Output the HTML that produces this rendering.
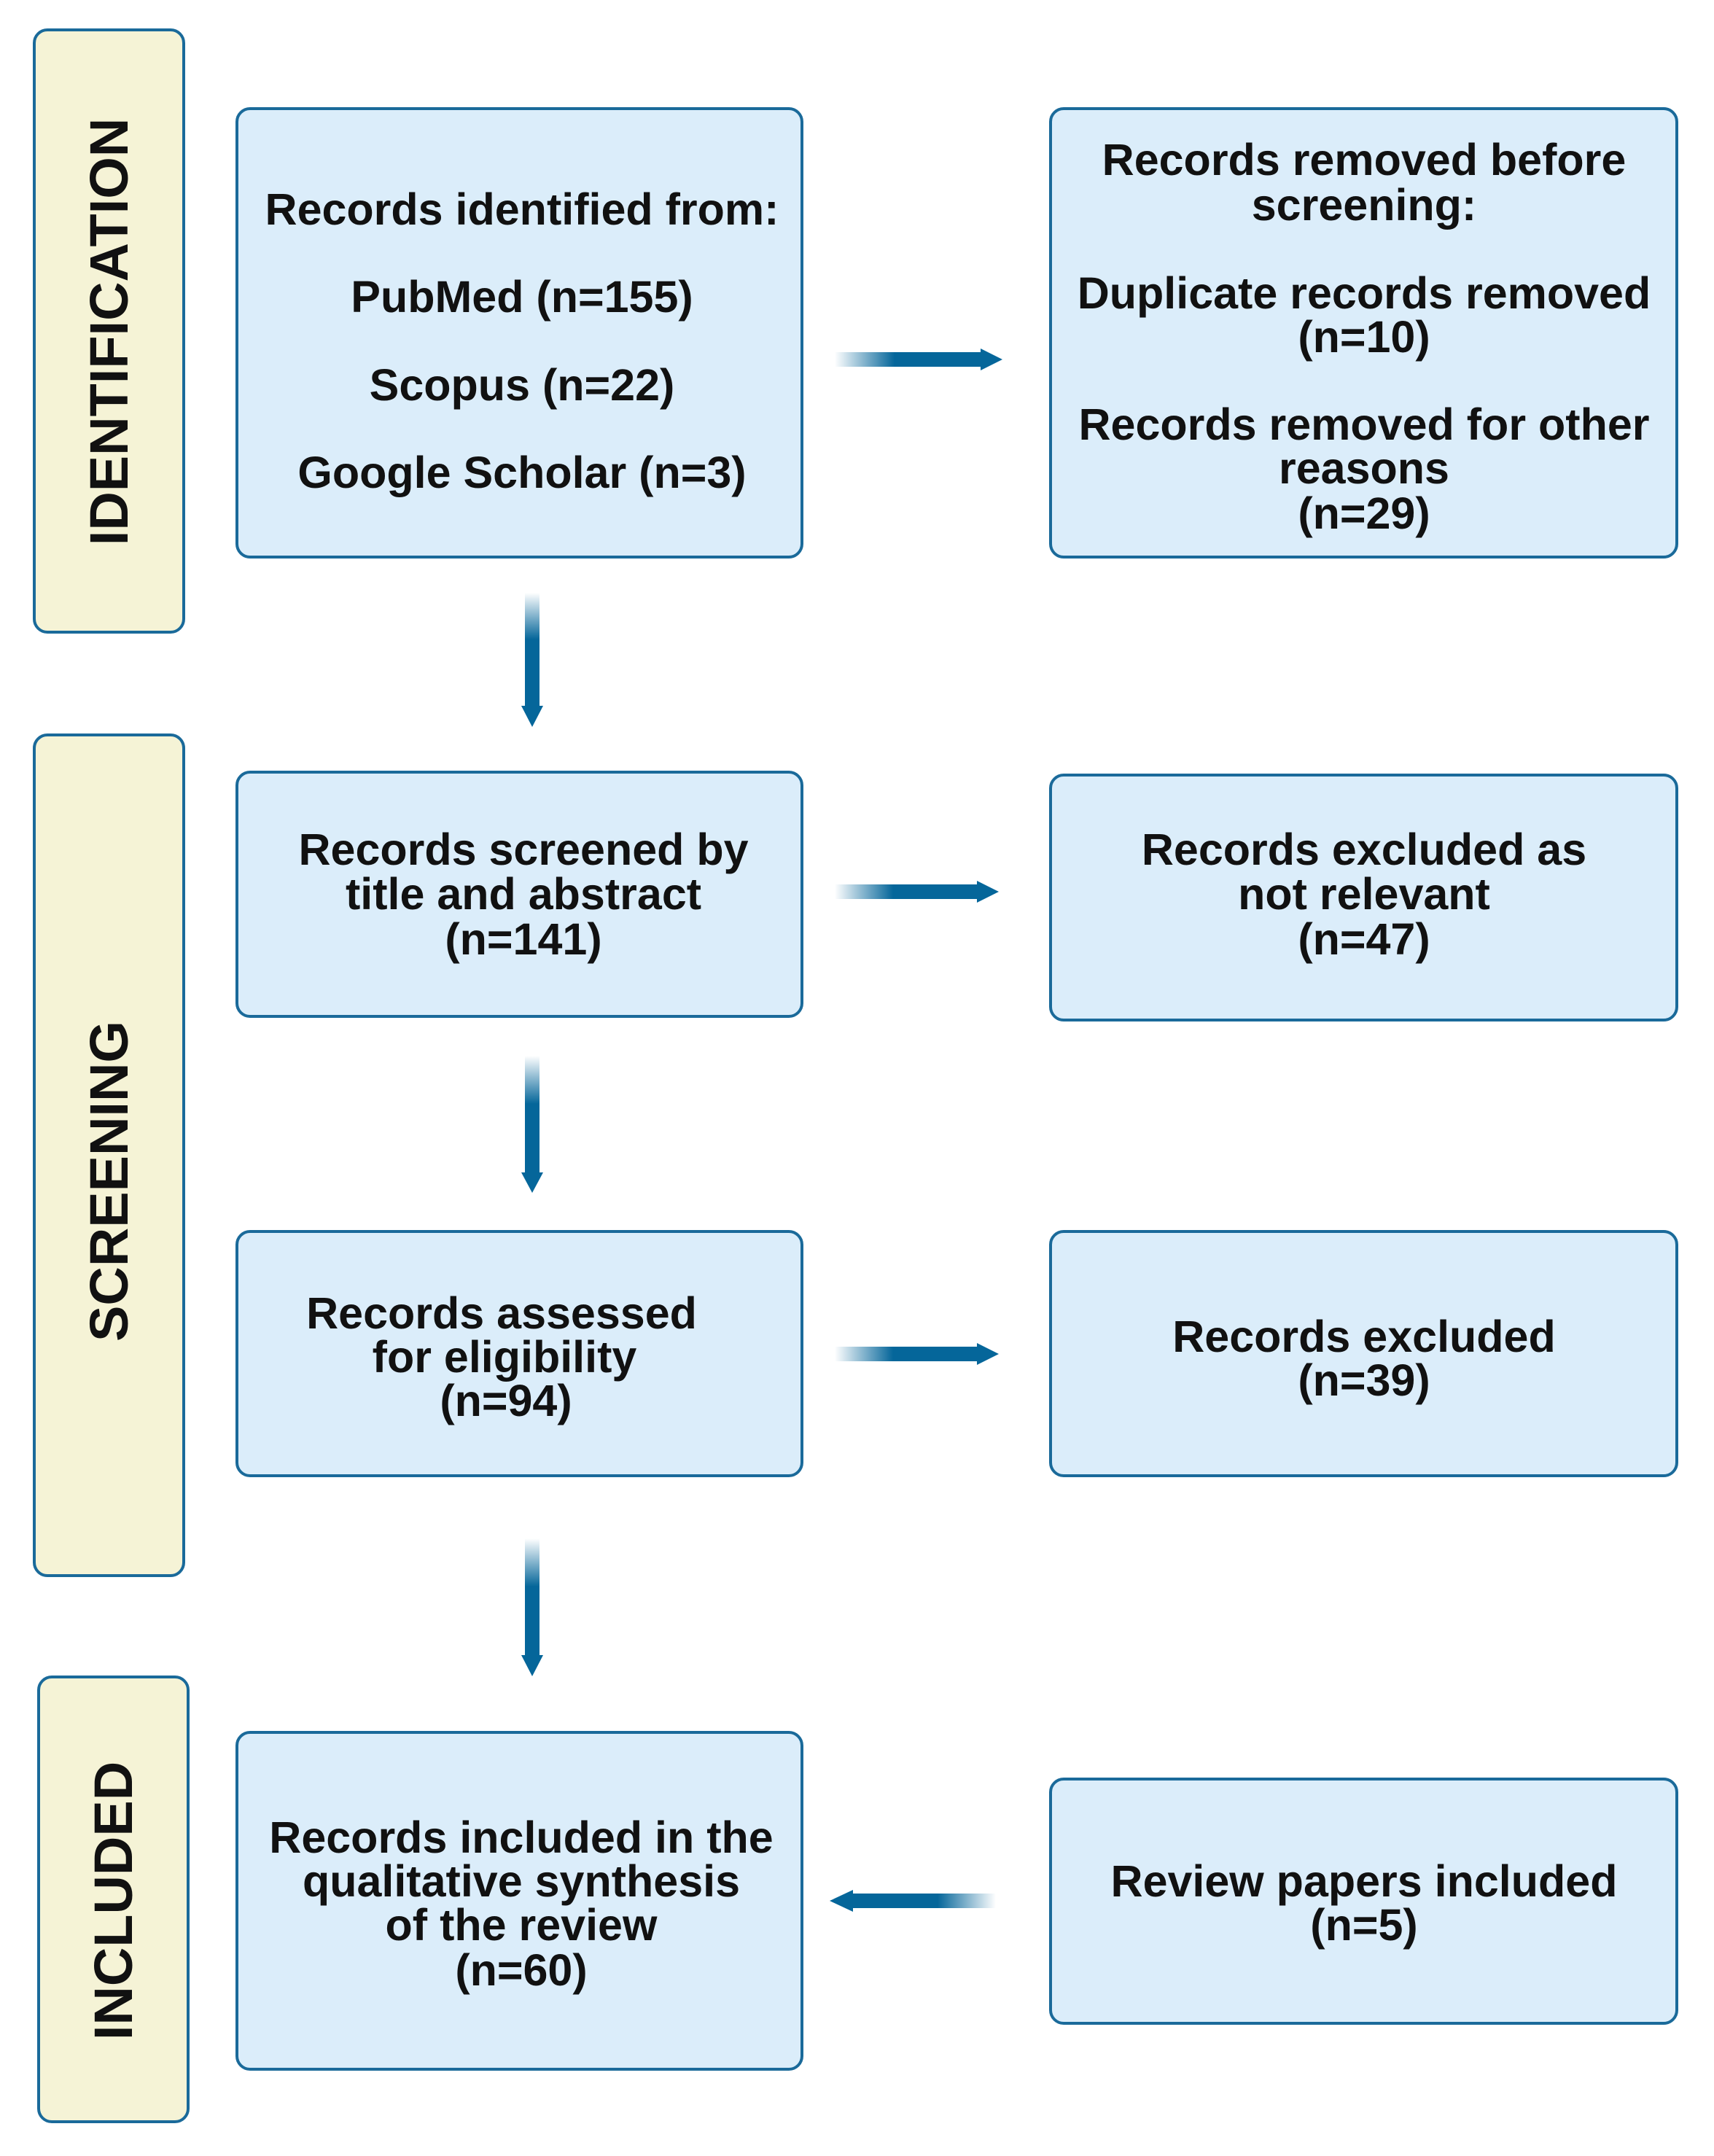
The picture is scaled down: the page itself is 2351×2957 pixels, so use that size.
<!DOCTYPE html>
<html><head><meta charset="utf-8"><style>
html,body{margin:0;padding:0;background:#fff;}
svg{display:block;}
text{font-family:"Liberation Sans",Arial,sans-serif;font-weight:bold;fill:#111;}
</style></head><body>
<svg width="2351" height="2957" viewBox="0 0 2351 2957" xmlns="http://www.w3.org/2000/svg">
<defs>
<linearGradient id="gr" x1="0" y1="0" x2="1" y2="0"><stop offset="0" stop-color="#05669a" stop-opacity="0"/><stop offset="0.4" stop-color="#05669a" stop-opacity="1"/><stop offset="1" stop-color="#05669a"/></linearGradient>
<linearGradient id="gl" x1="1" y1="0" x2="0" y2="0"><stop offset="0" stop-color="#05669a" stop-opacity="0"/><stop offset="0.4" stop-color="#05669a" stop-opacity="1"/><stop offset="1" stop-color="#05669a"/></linearGradient>
<linearGradient id="gd" x1="0" y1="0" x2="0" y2="1"><stop offset="0" stop-color="#05669a" stop-opacity="0"/><stop offset="0.4" stop-color="#05669a" stop-opacity="1"/><stop offset="1" stop-color="#05669a"/></linearGradient>
</defs>
<g fill="#f5f3d6" stroke="#1a6a9a" stroke-width="4">
<rect x="47" y="41" width="205" height="826" rx="18"/>
<rect x="47" y="1008" width="205" height="1153" rx="18"/>
<rect x="53" y="2300" width="205" height="610" rx="18"/>
</g>
<g font-size="74" text-anchor="middle">
<text transform="translate(175,455) rotate(-90)">IDENTIFICATION</text>
<text transform="translate(175,1620) rotate(-90)">SCREENING</text>
<text transform="translate(181,2607) rotate(-90)">INCLUDED</text>
</g>
<g fill="#dbedfa" stroke="#1a6a9a" stroke-width="4">
<rect x="325" y="149" width="775" height="615" rx="18"/>
<rect x="1441" y="149" width="859" height="615" rx="18"/>
<rect x="325" y="1059" width="775" height="335" rx="18"/>
<rect x="1441" y="1063" width="859" height="336" rx="18"/>
<rect x="325" y="1689" width="775" height="335" rx="18"/>
<rect x="1441" y="1689" width="859" height="335" rx="18"/>
<rect x="325" y="2376" width="775" height="462" rx="18"/>
<rect x="1441" y="2440" width="859" height="335" rx="18"/>
</g>
<g>
<rect x="1145" y="483" width="205" height="20" fill="url(#gr)"/><polygon points="1345,478 1375,493 1345,508" fill="#05669a"/>
<rect x="1145" y="1213" width="200" height="20" fill="url(#gr)"/><polygon points="1340,1208 1370,1223 1340,1238" fill="#05669a"/>
<rect x="1145" y="1847" width="200" height="20" fill="url(#gr)"/><polygon points="1340,1842 1370,1857 1340,1872" fill="#05669a"/>
<rect x="1166" y="2597" width="200" height="20" fill="url(#gl)"/><polygon points="1170,2592 1138,2607 1170,2622" fill="#05669a"/>
<rect x="720" y="813" width="20" height="160" fill="url(#gd)"/><polygon points="715,968 730,997 745,968" fill="#05669a"/>
<rect x="720" y="1448" width="20" height="165" fill="url(#gd)"/><polygon points="715,1608 730,1636 745,1608" fill="#05669a"/>
<rect x="720" y="2110" width="20" height="165" fill="url(#gd)"/><polygon points="715,2270 730,2299 745,2270" fill="#05669a"/>
</g>
<g font-size="61" text-anchor="middle">
<text x="716" y="308">Records identified from:</text>
<text x="716" y="428">PubMed (n=155)</text>
<text x="716" y="549">Scopus (n=22)</text>
<text x="716" y="669">Google Scholar (n=3)</text>

<text x="1871" y="240">Records removed before</text>
<text x="1871" y="302">screening:</text>
<text x="1871" y="423">Duplicate records removed</text>
<text x="1871" y="483">(n=10)</text>
<text x="1871" y="603">Records removed for other</text>
<text x="1871" y="663">reasons</text>
<text x="1871" y="725">(n=29)</text>

<text x="718" y="1186">Records screened by</text>
<text x="718" y="1247">title and abstract</text>
<text x="718" y="1309">(n=141)</text>

<text x="1871" y="1186">Records excluded as</text>
<text x="1871" y="1247">not relevant</text>
<text x="1871" y="1309">(n=47)</text>

<text x="688" y="1822">Records assessed</text>
<text x="692" y="1882">for eligibility</text>
<text x="694" y="1942">(n=94)</text>

<text x="1871" y="1854">Records excluded</text>
<text x="1871" y="1914">(n=39)</text>

<text x="715" y="2541">Records included in the</text>
<text x="715" y="2601">qualitative synthesis</text>
<text x="715" y="2661">of the review</text>
<text x="715" y="2723">(n=60)</text>

<text x="1871" y="2601">Review papers included</text>
<text x="1871" y="2661">(n=5)</text>
</g>
</svg>
</body></html>
